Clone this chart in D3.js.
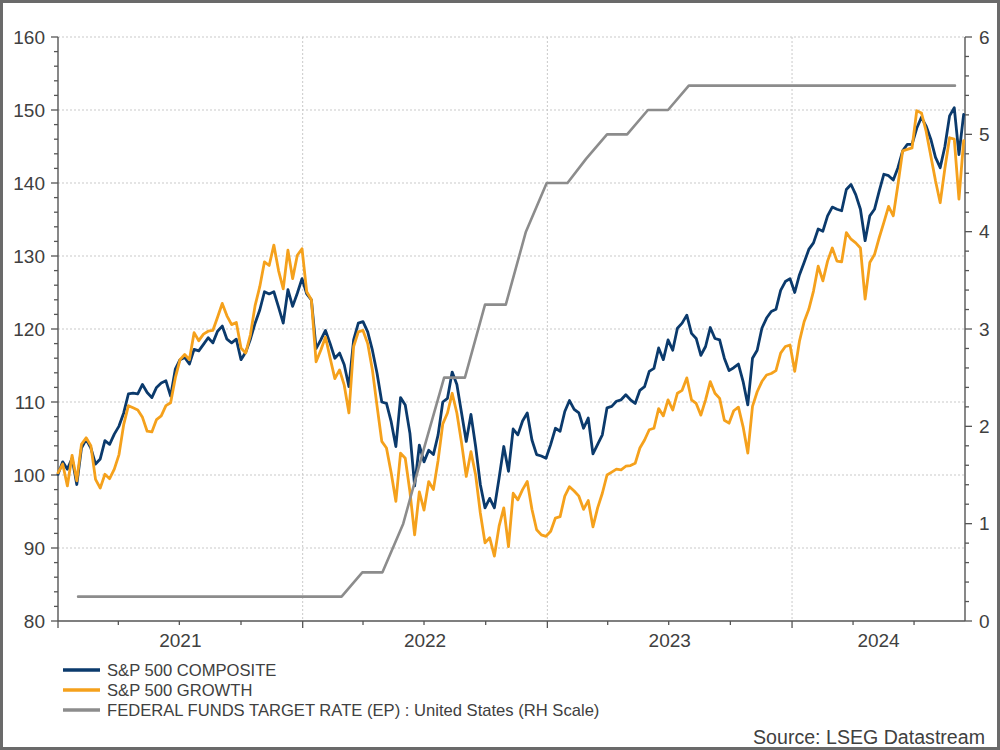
<!DOCTYPE html>
<html>
<head>
<meta charset="utf-8">
<script src="https://cdn.jsdelivr.net/npm/d3@7"></script>
<style>
  html, body { margin: 0; padding: 0; background: #fff; }
  svg { display: block; }
  text { font-family: "Liberation Sans", Arial, sans-serif; fill: #404040; }
</style>
</head>
<body>
<svg id="chart" width="1000" height="750"></svg>
<script>
// ---------------- DATA ----------------
const weeklyStart = "2021-01-01";          // first weekly observation (Friday)
const fedStartMonth = "2021-01";           // first monthly (month-end) observation

const composite = [
  100.1, 101.8, 100.8, 102.3, 98.7, 103.7, 104.9, 103.7, 101.5, 102.2,
  104.7, 104.2, 105.6, 106.7, 108.5, 111.1, 111.2, 111.1, 112.4, 111.3,
  110.6, 112.0, 112.6, 112.9, 110.8, 114.5, 115.8, 116.1, 115.2, 117.2,
  117.0, 117.9, 118.8, 118.1, 119.7, 120.4, 118.6, 118.1, 118.6, 115.8,
  116.8, 118.6, 120.8, 122.6, 125.1, 124.8, 125.1, 123.0, 120.8, 125.4,
  123.1, 124.9, 126.9, 124.8, 124.0, 117.3, 118.5, 119.8, 118.0, 116.0,
  116.7, 115.1, 112.1, 118.5, 120.8, 121.0, 119.6, 117.1, 113.9, 110.0,
  109.8, 107.3, 103.9, 110.6, 109.6, 105.7, 98.5, 104.1, 101.8, 103.4,
  102.8, 105.5, 110.0, 110.5, 114.1, 112.4, 108.5, 104.6, 108.3, 103.9,
  98.7, 95.5, 96.8, 95.5, 99.6, 103.9, 100.5, 106.3, 105.5, 107.4,
  108.5, 104.8, 102.8, 102.6, 102.3, 104.2, 106.4, 106.0, 108.7, 110.2,
  109.0, 108.5, 106.4, 107.8, 102.9, 104.2, 105.5, 109.2, 109.4, 110.1,
  110.3, 111.0, 110.3, 109.8, 111.6, 112.1, 114.2, 114.6, 117.4, 115.8,
  118.5, 117.1, 120.1, 120.8, 121.9, 119.4, 118.7, 116.4, 117.6, 120.2,
  118.7, 118.5, 116.0, 114.3, 114.7, 115.2, 112.8, 109.6, 116.0, 117.1,
  120.1, 121.5, 122.4, 122.7, 125.3, 126.5, 126.9, 125.0, 127.4, 129.1,
  130.9, 131.8, 133.7, 133.4, 135.5, 136.7, 136.4, 136.2, 139.1, 139.8,
  138.4, 136.4, 132.1, 135.5, 136.4, 138.9, 141.2, 141.0, 140.4, 142.1,
  144.4, 145.3, 145.3, 147.5, 149.0, 147.8, 146.0, 143.5, 142.1, 145.0,
  149.2, 150.3, 143.9, 149.4
];

const growth = [
  100.3, 101.5, 98.5, 102.7, 99.2, 104.2, 105.1, 104.0, 99.4, 98.2,
  100.1, 99.5, 100.8, 102.8, 106.9, 109.5, 109.2, 108.9, 107.9, 106.0,
  105.9, 107.6, 108.1, 109.5, 109.9, 113.3, 115.8, 116.5, 115.8, 119.5,
  118.4, 119.3, 119.7, 119.8, 121.6, 123.5, 121.8, 120.6, 120.9, 117.4,
  116.7, 119.2, 123.2, 125.8, 129.2, 128.7, 131.5, 128.0, 125.5, 130.8,
  126.9, 130.1, 131.0, 125.1, 124.0, 115.5, 117.1, 118.9, 116.0, 113.2,
  114.4, 112.3, 108.5, 117.6, 119.6, 119.8, 118.0, 114.4, 109.4, 104.6,
  103.7, 100.3, 96.4, 103.0, 102.3, 97.7, 91.8, 97.7, 95.2, 99.1,
  98.0, 102.0, 107.0, 108.5, 111.2, 108.5, 104.4, 99.8, 103.2, 100.0,
  94.8, 90.7, 91.4, 88.9, 93.0, 95.5, 90.2, 97.5, 96.6, 98.0,
  99.1, 95.3, 92.5, 91.8, 91.6, 92.3, 94.1, 94.3, 97.1, 98.4,
  97.8, 97.1, 95.3, 96.5, 92.9, 95.5, 97.5, 100.0, 100.4, 100.8,
  100.7, 101.2, 101.3, 101.6, 103.7, 104.8, 106.2, 106.4, 109.1, 108.1,
  110.3, 108.9, 111.2, 111.6, 113.3, 110.3, 109.8, 108.2, 110.3, 112.8,
  111.2, 110.5, 107.5, 107.1, 108.8, 109.3, 106.6, 103.0, 109.4, 111.4,
  112.8, 113.7, 113.9, 114.3, 116.7, 117.6, 117.8, 114.2, 118.3, 121.0,
  122.7, 125.2, 128.6, 126.6, 129.3, 131.1, 129.3, 129.2, 133.2, 132.3,
  131.8, 131.1, 124.1, 129.1, 130.2, 132.5, 134.6, 136.8, 135.5, 139.8,
  144.4, 144.6, 144.8, 149.9, 149.6, 147.1, 143.7, 140.3, 137.3, 142.0,
  146.2, 146.0, 137.8, 145.8
];

// Federal funds target rate, monthly (month-end), Jan 2021 .. Aug 2024
const fedRate = [
  0.25, 0.25, 0.25, 0.25, 0.25, 0.25, 0.25, 0.25, 0.25, 0.25, 0.25, 0.25,
  0.25, 0.25, 0.5, 0.5, 1.0, 1.75, 2.5, 2.5, 3.25, 3.25, 4.0, 4.5,
  4.5, 4.75, 5.0, 5.0, 5.25, 5.25, 5.5, 5.5, 5.5, 5.5, 5.5, 5.5,
  5.5, 5.5, 5.5, 5.5, 5.5, 5.5, 5.5, 5.5
];

const leftTicks = [80, 90, 100, 110, 120, 130, 140, 150, 160];
const rightTicks = [0, 1, 2, 3, 4, 5, 6];
const yearLabels = ["2021", "2022", "2023", "2024"];
const domainStart = "2021-01-01";
const domainEnd = "2024-09-15";

const seriesNames = [
  "S&P 500 COMPOSITE",
  "S&P 500 GROWTH",
  "FEDERAL FUNDS TARGET RATE (EP) : United States (RH Scale)"
];
const seriesColors = ["#0b3a6c", "#f5a11c", "#8c8c8c"];
const sourceText = "Source: LSEG Datastream";

// ---------------- BUILD ----------------
const parse = d3.utcParse("%Y-%m-%d");
const w0 = parse(weeklyStart);
const weeklyDates = composite.map((_, i) => d3.utcDay.offset(w0, 7 * i));
const m0 = d3.utcParse("%Y-%m")(fedStartMonth);
const fedDates = fedRate.map((_, i) => d3.utcDay.offset(d3.utcMonth.offset(m0, i + 1), -1));

const svg = d3.select("#chart");
const W = 1000, H = 750;
const plot = { left: 58, right: 965, top: 37, bottom: 621 };

const x = d3.scaleUtc().domain([parse(domainStart), parse(domainEnd)]).range([plot.left, plot.right]);
const yL = d3.scaleLinear().domain([80, 160]).range([plot.bottom, plot.top]);
const yR = d3.scaleLinear().domain([0, 6]).range([plot.bottom, plot.top]);

// outer frame
svg.append("rect").attr("x", 1.5).attr("y", 1.5).attr("width", W - 3).attr("height", H - 3)
  .attr("fill", "#fff").attr("stroke", "#6a6a6a").attr("stroke-width", 3);

// grid
const grid = svg.append("g");
grid.selectAll("line.h").data(leftTicks.filter(t => t > 80)).join("line")
  .attr("x1", plot.left).attr("x2", plot.right)
  .attr("y1", d => yL(d)).attr("y2", d => yL(d))
  .attr("stroke", "#c9c9c9").attr("stroke-width", 1).attr("stroke-dasharray", "2,2");
const yearStarts = yearLabels.map(y => parse(y + "-01-01"));
grid.selectAll("line.v").data(yearStarts.slice(1)).join("line")
  .attr("x1", d => x(d)).attr("x2", d => x(d))
  .attr("y1", plot.top).attr("y2", plot.bottom)
  .attr("stroke", "#c9c9c9").attr("stroke-width", 1).attr("stroke-dasharray", "2,2");

// axes
const axisColor = "#555";
// left axis
const leftMinor = d3.range(80, 160.001, 2);
const gL = svg.append("g").attr("transform", `translate(${plot.left},0)`);
gL.append("line").attr("y1", plot.top).attr("y2", plot.bottom).attr("stroke", axisColor).attr("stroke-width", 1.4);
gL.selectAll("line.t").data(leftMinor).join("line")
  .attr("x1", d => (d % 10 === 0 ? -7 : -4)).attr("x2", 0)
  .attr("y1", d => yL(d)).attr("y2", d => yL(d))
  .attr("stroke", axisColor).attr("stroke-width", 1.3);
gL.selectAll("text").data(leftTicks).join("text")
  .attr("x", -13).attr("y", d => yL(d)).attr("dy", "0.35em")
  .attr("text-anchor", "end").attr("font-size", 19).text(d => d);

// right axis
const rightMinor = d3.range(0, 6.001, 0.2).map(v => Math.round(v * 10) / 10);
const gR = svg.append("g").attr("transform", `translate(${plot.right},0)`);
gR.append("line").attr("y1", plot.top).attr("y2", plot.bottom).attr("stroke", axisColor).attr("stroke-width", 1.4);
gR.selectAll("line.t").data(rightMinor).join("line")
  .attr("x1", 0).attr("x2", d => (Number.isInteger(d) ? 7 : 4))
  .attr("y1", d => yR(d)).attr("y2", d => yR(d))
  .attr("stroke", axisColor).attr("stroke-width", 1.3);
gR.selectAll("text").data(rightTicks).join("text")
  .attr("x", 14).attr("y", d => yR(d)).attr("dy", "0.35em")
  .attr("text-anchor", "start").attr("font-size", 19).text(d => d);

// bottom axis
const quarterTicks = d3.utcMonth.every(3).range(parse(domainStart), parse(domainEnd));
const gB = svg.append("g").attr("transform", `translate(0,${plot.bottom})`);
gB.append("line").attr("x1", plot.left).attr("x2", plot.right).attr("stroke", axisColor).attr("stroke-width", 1.4);
gB.selectAll("line.t").data(quarterTicks).join("line")
  .attr("x1", d => x(d)).attr("x2", d => x(d))
  .attr("y1", 0).attr("y2", d => (d.getUTCMonth() === 0 ? 7 : 4))
  .attr("stroke", axisColor).attr("stroke-width", 1.3);
gB.selectAll("text").data(yearLabels).join("text")
  .attr("x", y => {
    const a = Math.max(x(parse(y + "-01-01")), plot.left);
    const b = Math.min(x(parse((+y + 1) + "-01-01")), plot.right);
    return (a + b) / 2;
  })
  .attr("y", 26).attr("text-anchor", "middle").attr("font-size", 19).text(d => d);

// lines
const lineL = d3.line().x(d => x(d[0])).y(d => yL(d[1]));
const lineR = d3.line().x(d => x(d[0])).y(d => yR(d[1]));
const lines = svg.append("g").attr("stroke-linejoin", "round").attr("stroke-linecap", "round").attr("fill", "none");
lines.append("path").datum(weeklyDates.map((d, i) => [d, composite[i]]))
  .attr("d", lineL).attr("stroke", seriesColors[0]).attr("stroke-width", 2.8);
lines.append("path").datum(weeklyDates.map((d, i) => [d, growth[i]]))
  .attr("d", lineL).attr("stroke", seriesColors[1]).attr("stroke-width", 2.8);
lines.append("path").datum(fedDates.map((d, i) => [d, fedRate[i]]))
  .attr("d", lineR).attr("stroke", seriesColors[2]).attr("stroke-width", 2.6);

// legend
const lg = svg.append("g");
seriesNames.forEach((name, i) => {
  const yy = 670 + i * 20;
  lg.append("line").attr("x1", 63).attr("x2", 100).attr("y1", yy).attr("y2", yy)
    .attr("stroke", seriesColors[i]).attr("stroke-width", 3.5);
  lg.append("text").attr("x", 107).attr("y", yy).attr("dy", "0.35em")
    .attr("font-size", 16.6).text(name);
});

// source
svg.append("text").attr("x", 985).attr("y", 744).attr("text-anchor", "end")
  .attr("font-size", 19.6).text(sourceText);
</script>
</body>
</html>
